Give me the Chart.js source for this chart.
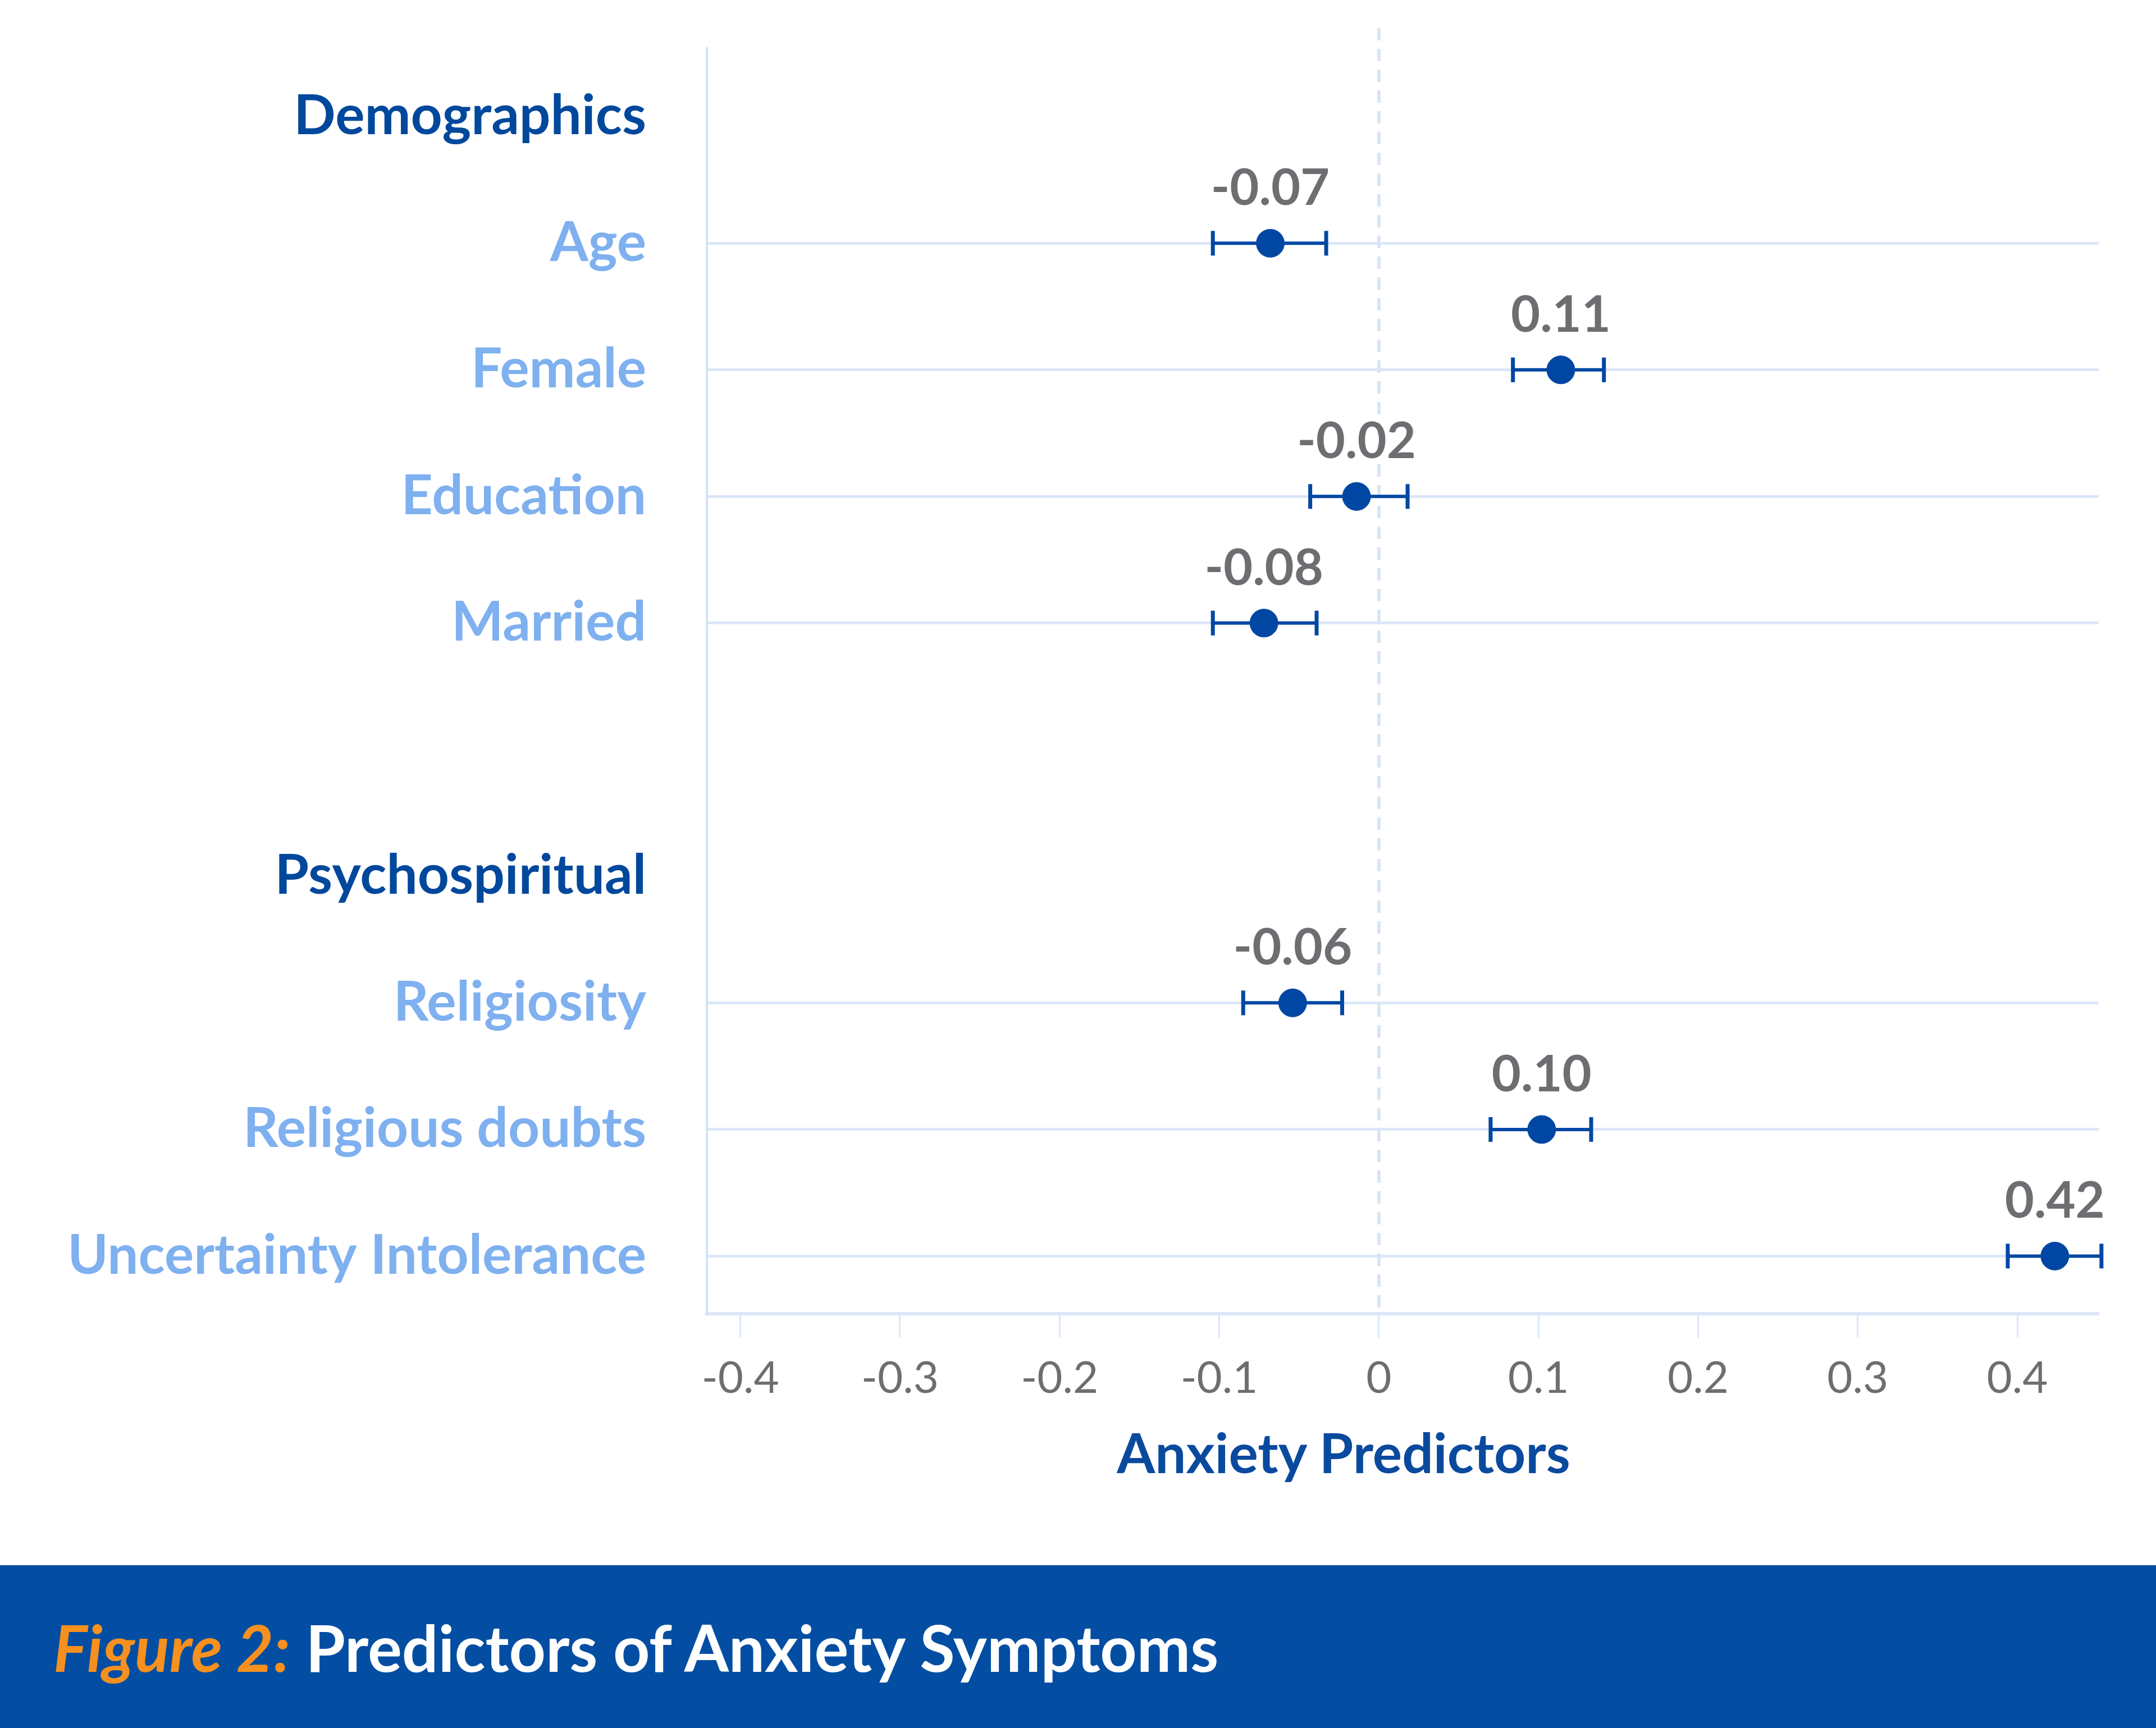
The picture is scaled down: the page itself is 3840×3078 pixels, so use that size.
<!DOCTYPE html>
<html>
<head>
<meta charset="utf-8">
<script src="https://cdn.jsdelivr.net/npm/chart.js@4.4.1/dist/chart.umd.min.js"></script>
<style>
  html, body { margin: 0; padding: 0; background: #ffffff; }
  #wrap { position: relative; width: 3840px; height: 3078px; overflow: hidden; }
  #xTitle {
    position: absolute; left: 2393px; top: 2528px; transform: translateX(-50%);
    font: bold 98px Lato, sans-serif; color: #0a4a9e; white-space: nowrap; line-height: 1.2;
  }
  #banner {
    position: absolute; left: 0; top: 2788px; width: 3840px; height: 290px;
    background: #034ea2; display: flex; align-items: center;
    font: bold 114px Lato, sans-serif; color: #ffffff; white-space: nowrap;
  }
  #banner span.fig { color: #f7901e; font-style: italic; margin-left: 95px; }
</style>
</head>
<body>
<div id="wrap">
  <canvas id="grafico" width="3840" height="2788"></canvas>
  <div id="xTitle">Anxiety Predictors</div>
  <div id="banner"><span class="fig">Figure 2:</span>&nbsp;Predictors of Anxiety Symptoms</div>
</div>
<script>
// linhas do gráfico (de cima para baixo)
var rotulos = ["Demographics", "Age", "Female", "Education", "Married", "",
               "Psychospiritual", "Religiosity", "Religious doubts", "Uncertainty Intolerance"];
var cabecalhos = ["Demographics", "Psychospiritual"];

// coeficientes (posição do ponto), limites do intervalo e texto mostrado
var preditores = ["Age", "Female", "Education", "Married", "Religiosity", "Religious doubts", "Uncertainty Intolerance"];
var coeficientes = [-0.068, 0.114, -0.014, -0.072, -0.054, 0.102, 0.4235];
var limiteInf = [-0.104, 0.084, -0.043, -0.104, -0.085, 0.070, 0.394];
var limiteSup = [-0.033, 0.141, 0.018, -0.039, -0.023, 0.133, 0.4527];
var textoValor = ["-0.07", "0.11", "-0.02", "-0.08", "-0.06", "0.10", "0.42"];

var ticksX = [-0.4, -0.3, -0.2, -0.1, 0, 0.1, 0.2, 0.3, 0.4];

var azulEscuro = "#0047a3";
var azulClaro = "#7fb0ef";
var cinza = "#6d6e71";
var linhaClara = "#dbe7f8";

var pontos = [];
var intervalos = [];
for (var i = 0; i < preditores.length; i++) {
    var linha = rotulos.indexOf(preditores[i]);
    pontos.push({ x: coeficientes[i], y: linha });
    intervalos.push({ x: limiteInf[i], y: linha });
    intervalos.push({ x: limiteSup[i], y: linha });
    intervalos.push({ x: limiteSup[i], y: null });
}

// texto do valor acima de cada ponto
const rotuloValores = {
    id: 'rotuloValores',
    afterDatasetsDraw(chart) {
        const ctx = chart.ctx;
        const meta = chart.getDatasetMeta(0);
        ctx.save();
        ctx.font = "bold 90px Lato, sans-serif";
        ctx.fillStyle = cinza;
        ctx.textAlign = "center";
        ctx.textBaseline = "middle";
        meta.data.forEach(function (p, i) {
            ctx.fillText(textoValor[i], p.x, p.y - 97);
        });
        ctx.restore();
    }
};

const config = {
    type: 'scatter',
    data: {
        datasets: [
            {
                label: 'coef',
                data: pontos,
                backgroundColor: azulEscuro,
                borderColor: azulEscuro,
                pointRadius: 25,
                pointHoverRadius: 25,
                order: 0
            },
            {
                label: 'ic',
                type: 'line',
                data: intervalos,
                borderColor: azulEscuro,
                borderWidth: 6,
                pointStyle: 'line',
                pointRotation: 90,
                pointRadius: 22,
                pointBorderWidth: 7,
                pointBorderColor: azulEscuro,
                spanGaps: false,
                clip: false,
                order: 1
            },
            {
                label: 'zero',
                type: 'line',
                data: [{ x: 0, y: -0.7 }, { x: 0, y: 9.455 }],
                borderColor: "#d9e4f4",
                borderWidth: 6,
                borderDash: [22, 15],
                pointRadius: 0,
                clip: false,
                order: 2
            }
        ]
    },
    options: {
        responsive: false,
        devicePixelRatio: 1,
        animation: false,
        layout: { padding: { left: 0, top: 86, right: 102, bottom: 0 } },
        plugins: { legend: { display: false }, tooltip: { enabled: false } },
        scales: {
            x: {
                type: 'linear',
                min: -0.421,
                max: 0.451,
                afterBuildTicks: function (s) { s.ticks = ticksX.map(function (v) { return { value: v }; }); },
                afterFit: function (s) { s.height = 448; s.paddingLeft = 0; s.paddingRight = 0; },
                ticks: {
                    padding: 26,
                    color: cinza,
                    font: { family: 'Lato', size: 78 },
                    callback: function (v) { return v === 0 ? "0" : Number(v).toFixed(1); }
                },
                grid: {
                    drawOnChartArea: false,
                    drawTicks: true,
                    tickLength: 43,
                    tickWidth: 3,
                    tickColor: linhaClara
                },
                border: { color: linhaClara, width: 6 }
            },
            y: {
                type: 'linear',
                reverse: true,
                min: -0.54,
                max: 9.455,
                afterBuildTicks: function (s) { s.ticks = rotulos.map(function (r, i) { return { value: i }; }); },
                afterFit: function (s) { s.width = 1259; s.paddingTop = 0; s.paddingBottom = 0; },
                ticks: {
                    padding: 108,
                    autoSkip: false,
                    font: { family: 'Lato', size: 98, weight: 'bold' },
                    color: function (c) {
                        return cabecalhos.indexOf(rotulos[c.index]) >= 0 ? "#00489c" : azulClaro;
                    },
                    callback: function (v, i) { return rotulos[i]; }
                },
                grid: {
                    drawTicks: false,
                    lineWidth: 5,
                    color: function (c) {
                        var r = rotulos[c.index];
                        return (r === "" || cabecalhos.indexOf(r) >= 0) ? "rgba(0,0,0,0)" : linhaClara;
                    }
                },
                border: { color: "#d3e2f6", width: 4 }
            }
        }
    },
    plugins: [rotuloValores]
};

var grafico = new Chart(document.getElementById('grafico'), config);
</script>
</body>
</html>
